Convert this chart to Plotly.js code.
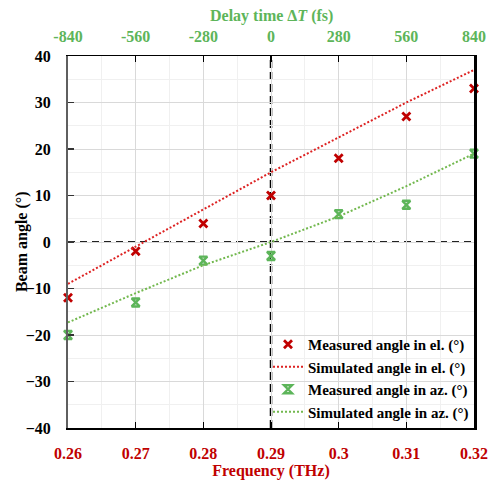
<!DOCTYPE html>
<html>
<head>
<meta charset="utf-8">
<script src="https://cdn.plot.ly/plotly-3.0.1.min.js"></script>
<style>
  html, body { margin: 0; padding: 0; background: #fff; }
  #chart { width: 488px; height: 480px; }
</style>
</head>
<body>
<div id="chart"></div>
<script>
// Beam steering angle versus frequency (bottom axis) and delay time (top axis)
const frequencyTHz = [0.26, 0.27, 0.28, 0.29, 0.30, 0.31, 0.32];
const frequencyLabels = ['0.26', '0.27', '0.28', '0.29', '0.3', '0.31', '0.32'];
const delayTicks = [-840, -560, -280, 0, 280, 560, 840];
const delayLabels = ['-840', '-560', '-280', '0', '280', '560', '840'];

const measuredEl = [-12, -2, 4, 10, 18, 27, 33];
const simulatedEl = [-9, -1, 7, 15, 22.5, 30, 37];
const measuredAz = [-20, -13, -4, -3, 6, 8, 19];
const simulatedAz = [-17.3, -11, -5, 0, 5.5, 12, 19];

const RED = '#C00000';
const RED_LINE = '#DD2222';
const GREEN = '#5DB55A';
const GREEN_LINE = '#72B84E';
const FONT = 'Liberation Serif, Times New Roman, serif';

const traces = [
  {
    x: frequencyTHz, y: measuredEl, type: 'scatter', mode: 'markers', cliponaxis: false,
    name: '<b>Measured angle in el. (°)</b>',
    marker: { symbol: 'x-thin-open', size: 8, color: RED, line: { color: RED, width: 2.8 } }
  },
  {
    x: frequencyTHz, y: simulatedEl, type: 'scatter', mode: 'lines',
    name: '<b>Simulated angle in el. (°)</b>',
    line: { color: RED_LINE, width: 2, dash: '2px,2px' }
  },
  {
    x: frequencyTHz, y: measuredAz, type: 'scatter', mode: 'markers', cliponaxis: false,
    name: '<b>Measured angle in az. (°)</b>',
    marker: { symbol: 'hourglass-open', size: 8, color: GREEN, line: { color: GREEN, width: 2.4 } }
  },
  {
    x: frequencyTHz, y: simulatedAz, type: 'scatter', mode: 'lines',
    name: '<b>Simulated angle in az. (°)</b>',
    line: { color: GREEN_LINE, width: 2, dash: '2px,2px' }
  },
  // empty trace that brings the delay-time (top) axis and the right frame axis to life
  {
    x: delayTicks, y: delayTicks.map(() => null), xaxis: 'x2', yaxis: 'y2',
    type: 'scatter', mode: 'lines', showlegend: false, hoverinfo: 'skip'
  }
];

const layout = {
  width: 488, height: 480,
  margin: { l: 68, r: 14, t: 56, b: 52, autoexpand: false },
  paper_bgcolor: '#ffffff', plot_bgcolor: '#ffffff',
  font: { family: FONT, size: 16, color: '#000' },
  showlegend: true,
  legend: {
    x: 1.0, y: 0.0, xanchor: 'right', yanchor: 'bottom',
    bgcolor: 'rgba(0,0,0,0)', borderwidth: 0,
    font: { family: FONT, size: 15, color: '#000' },
    tracegroupgap: 0
  },
  xaxis: {
    range: [0.26, 0.32],
    tickvals: frequencyTHz, ticktext: frequencyLabels,
    tickfont: { family: FONT, size: 16, color: RED, weight: 'bold' },
    ticks: 'inside', ticklen: 6, tickwidth: 1.5, tickcolor: '#000',
    ticklabelstandoff: 10,
    showline: true, linecolor: '#000', linewidth: 1.5,
    showgrid: true, gridcolor: '#d9d9d9', gridwidth: 1,
    minor: { dtick: 0.005, tick0: 0.26, showgrid: true, gridcolor: '#f0f0f0', gridwidth: 1, ticks: '' },
    zeroline: false,
    title: { text: '<b>Frequency (THz)</b>', font: { family: FONT, size: 16, color: RED } }
  },
  xaxis2: {
    overlaying: 'x', side: 'top', anchor: 'y2',
    range: [-840, 840],
    tickvals: delayTicks, ticktext: delayLabels,
    tickfont: { family: FONT, size: 16, color: GREEN, weight: 'bold' },
    ticks: 'inside', ticklen: 6, tickwidth: 1.5, tickcolor: '#000',
    ticklabelstandoff: 6,
    showline: true, linecolor: '#000', linewidth: 1.5,
    showgrid: false, zeroline: false
  },
  yaxis: {
    range: [-40, 40], dtick: 10, tick0: 0,
    tickfont: { family: FONT, size: 16, color: '#000', weight: 'bold' },
    ticks: 'inside', ticklen: 6, tickwidth: 1.5, tickcolor: '#333',
    ticklabelstandoff: 12,
    showline: true, linecolor: '#5f5f5f', linewidth: 2,
    showgrid: true, gridcolor: '#d9d9d9', gridwidth: 1,
    minor: { dtick: 5, tick0: 0, showgrid: true, gridcolor: '#f0f0f0', gridwidth: 1, ticks: '' },
    zeroline: false
  },
  yaxis2: {
    overlaying: 'y', side: 'right', anchor: 'x2',
    range: [-40, 40],
    showline: true, linecolor: '#000', linewidth: 2.5,
    showgrid: false, zeroline: false, ticks: '', showticklabels: false
  },
  annotations: [
    // axis titles placed a little closer to their tick labels than the default
    { text: '<b>Beam angle (°)</b>', xref: 'paper', yref: 'paper',
      x: -0.113, y: 0.5, xanchor: 'center', yanchor: 'middle', textangle: -90,
      showarrow: false, font: { family: FONT, size: 16, color: '#000' } },
    { text: '<b>Delay time Δ<i>T</i> (fs)</b>', xref: 'paper', yref: 'paper',
      x: 0.5, y: 1.107, xanchor: 'center', yanchor: 'middle',
      showarrow: false, font: { family: FONT, size: 16, color: GREEN } }
  ],
  shapes: [
    { type: 'line', xref: 'x', yref: 'y', x0: 0.26, x1: 0.32, y0: 0, y1: 0,
      line: { color: '#222', width: 1.8, dash: '7px,5px' }, layer: 'below' },
    { type: 'line', xref: 'x', yref: 'y', x0: 0.29, x1: 0.29, y0: -40, y1: 40,
      line: { color: '#000', width: 2.5, dash: '8px,4px' }, layer: 'below' }
  ]
};

Plotly.newPlot('chart', traces, layout, { displayModeBar: false, staticPlot: true });
</script>
</body>
</html>
